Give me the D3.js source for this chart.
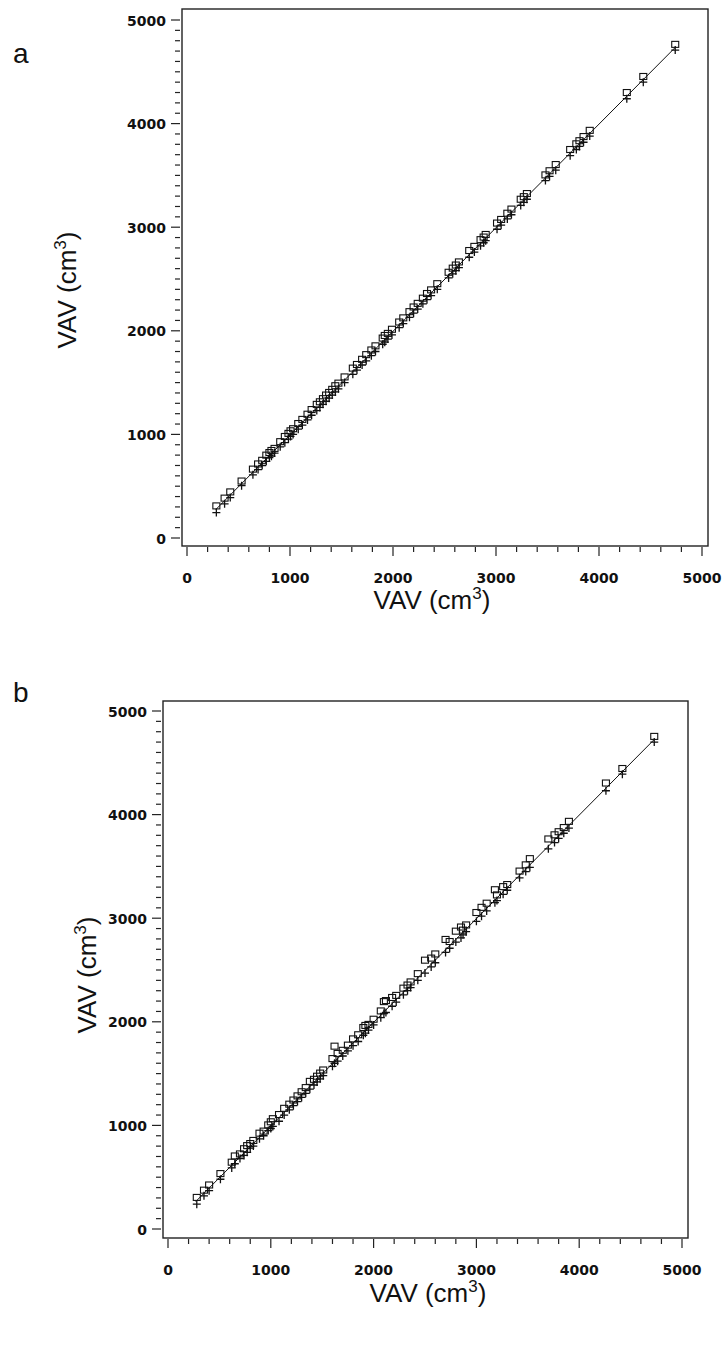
<!DOCTYPE html>
<html>
<head>
<meta charset="utf-8">
<script src="https://cdn.jsdelivr.net/npm/d3@7"></script>
<style>
  body { margin: 0; background: #fff; }
  svg { display: block; }
  .tick-label { font-family: "DejaVu Sans", sans-serif; font-weight: bold; font-size: 14px; fill: #111; }
  .axis-title { font-family: "Liberation Sans", Arial, sans-serif; font-size: 26px; fill: #111; }
  .panel-letter { font-family: "Liberation Sans", Arial, sans-serif; font-size: 28px; fill: #111; }
</style>
</head>
<body>
<div id="chart"></div>
<script>
// Tick values shared by both panels
const majorTicks = [0, 1000, 2000, 3000, 4000, 5000];
const xMinorStep = 200;
const yMinorStep = 100;

// Panel a: reference volume, square-marker measure, plus-marker measure
const volA = [285, 365, 420, 530, 640, 690, 730, 770, 800, 820, 850, 905, 950, 985, 1005, 1030, 1080, 1120, 1170, 1210,
  1260, 1290, 1320, 1350, 1380, 1410, 1440, 1470, 1530, 1610, 1650, 1700, 1740, 1790, 1830, 1900, 1920, 1950, 1990, 2060,
  2100, 2160, 2200, 2240, 2290, 2330, 2370, 2430, 2540, 2580, 2610, 2640, 2740, 2790, 2850, 2880, 2900, 3010, 3050, 3110,
  3150, 3240, 3270, 3300, 3480, 3520, 3580, 3720, 3780, 3810, 3850, 3910, 4270, 4430, 4740];
const sqA = [305, 380, 440, 545, 660, 710, 745, 795, 820, 840, 860, 925, 975, 1005, 1030, 1050, 1100, 1140, 1190, 1235,
  1285, 1310, 1340, 1375, 1400, 1430, 1465, 1490, 1550, 1635, 1670, 1720, 1765, 1810, 1850, 1925, 1950, 1970, 2010, 2080,
  2120, 2180, 2225, 2260, 2310, 2355, 2390, 2450, 2560, 2600, 2630, 2660, 2770, 2810, 2875, 2900, 2925, 3035, 3070, 3130,
  3170, 3265, 3290, 3320, 3500, 3540, 3600, 3745, 3800, 3830, 3870, 3930, 4295, 4450, 4760];
const plusA = [245, 330, 390, 505, 610, 660, 700, 740, 775, 790, 820, 880, 920, 955, 980, 1000, 1050, 1090, 1140, 1185,
  1230, 1260, 1290, 1320, 1350, 1380, 1410, 1440, 1500, 1580, 1620, 1670, 1710, 1760, 1800, 1870, 1890, 1920, 1960, 2030,
  2070, 2130, 2170, 2210, 2260, 2300, 2340, 2400, 2510, 2550, 2580, 2610, 2710, 2760, 2820, 2850, 2870, 2980, 3020, 3080,
  3120, 3210, 3240, 3270, 3450, 3490, 3550, 3690, 3750, 3780, 3820, 3880, 4240, 4400, 4710];
const fitA = [[280, 275], [4740, 4735]];

// Panel b
const volB = [280, 350, 400, 510, 620, 650, 700, 740, 770, 800, 830, 890, 930, 975, 1000, 1020, 1080, 1130, 1180, 1220,
  1260, 1300, 1340, 1380, 1420, 1450, 1480, 1510, 1600, 1620, 1650, 1700, 1750, 1800, 1850, 1900, 1920, 1950, 2000, 2070,
  2100, 2120, 2180, 2220, 2290, 2330, 2360, 2430, 2500, 2560, 2600, 2700, 2740, 2800, 2850, 2870, 2900, 3000, 3050, 3100,
  3180, 3200, 3260, 3300, 3420, 3480, 3520, 3700, 3760, 3800, 3850, 3900, 4260, 4420, 4730];
const sqB = [300, 370, 420, 530, 640, 700, 720, 770, 800, 820, 850, 920, 940, 1000, 1030, 1060, 1100, 1160, 1200, 1240,
  1280, 1320, 1360, 1420, 1440, 1470, 1500, 1530, 1640, 1760, 1690, 1720, 1770, 1830, 1870, 1940, 1960, 1970, 2020, 2100,
  2190, 2200, 2230, 2250, 2320, 2350, 2380, 2460, 2590, 2610, 2650, 2790, 2770, 2870, 2910, 2880, 2930, 3050, 3100, 3140,
  3270, 3220, 3300, 3320, 3450, 3510, 3570, 3760, 3800, 3830, 3870, 3930, 4300, 4440, 4750];
const plusB = [240, 320, 370, 480, 590, 630, 680, 710, 740, 780, 800, 870, 900, 950, 970, 990, 1040, 1100, 1150, 1190,
  1230, 1270, 1310, 1350, 1390, 1420, 1450, 1480, 1570, 1600, 1620, 1670, 1720, 1770, 1810, 1870, 1890, 1920, 1970, 2040,
  2080, 2090, 2150, 2190, 2260, 2300, 2330, 2400, 2470, 2530, 2570, 2670, 2710, 2770, 2810, 2840, 2870, 2970, 3020, 3070,
  3150, 3170, 3230, 3270, 3390, 3450, 3490, 3670, 3730, 3770, 3820, 3870, 4230, 4390, 4700];
const fitB = [[270, 265], [4730, 4725]];

const axisLabel = "VAV (cm";
const axisSup = "3";

const W = 726, H = 1345;
const svg = d3.select("#chart").append("svg")
    .attr("width", W)
    .attr("height", H);

function drawPanel(opt, vol, sq, plus, fit) {
    const x = d3.scaleLinear().domain([0, 5000]).range(opt.xr);
    const y = d3.scaleLinear().domain([0, 5000]).range(opt.yr);
    const g = svg.append("g");
    const f = opt.frame;

    // Frame
    g.append("rect")
        .attr("x", f.l).attr("y", f.t)
        .attr("width", f.r - f.l).attr("height", f.b - f.t)
        .attr("fill", "none").attr("stroke", "#222").attr("stroke-width", 1.4);

    // X ticks (below frame)
    const xTicks = d3.range(0, 5001, xMinorStep);
    g.selectAll(".xt").data(xTicks).join("line")
        .attr("x1", d => x(d)).attr("x2", d => x(d))
        .attr("y1", f.b + 1)
        .attr("y2", d => f.b + (d % 1000 === 0 ? 10 : 6))
        .attr("stroke", "#222").attr("stroke-width", 1.2);
    g.selectAll(".xl").data(majorTicks).join("text")
        .attr("class", "tick-label")
        .attr("x", d => x(d)).attr("y", f.b + 37)
        .attr("text-anchor", "middle")
        .text(d => d);

    // Y ticks (left of frame)
    const yTicks = d3.range(0, 5001, yMinorStep);
    g.selectAll(".yt").data(yTicks).join("line")
        .attr("x1", d => f.l - 2 - (d % 1000 === 0 ? 9 : 5)).attr("x2", f.l - 2)
        .attr("y1", d => y(d)).attr("y2", d => y(d))
        .attr("stroke", "#222").attr("stroke-width", 1.2);
    g.selectAll(".yl").data(majorTicks).join("text")
        .attr("class", "tick-label")
        .attr("x", f.l - 16).attr("y", d => y(d) + 5.5)
        .attr("text-anchor", "end")
        .text(d => d);

    // Fit line
    g.append("path")
        .attr("d", d3.line().x(d => x(d[0])).y(d => y(d[1]))(fit))
        .attr("fill", "none").attr("stroke", "#111").attr("stroke-width", 1);

    // Plus markers
    const pts = vol.map((v, i) => ({ v, s: sq[i], p: plus[i] }));
    g.selectAll(".pl").data(pts).join("path")
        .attr("d", d => {
            const cx = x(d.v), cy = y(d.p);
            return `M${cx - 4},${cy}H${cx + 4}M${cx},${cy - 4}V${cy + 4}`;
        })
        .attr("stroke", "#111").attr("stroke-width", 1.3).attr("fill", "none");

    // Square markers
    g.selectAll(".sq").data(pts).join("rect")
        .attr("x", d => x(d.v) - 3.5).attr("y", d => y(d.s) - 3.5)
        .attr("width", 7).attr("height", 6)
        .attr("fill", "none").attr("stroke", "#111").attr("stroke-width", 1.1);

    // Axis titles
    const xt = g.append("text").attr("class", "axis-title")
        .attr("x", opt.xTitle[0]).attr("y", opt.xTitle[1])
        .attr("text-anchor", "middle");
    xt.append("tspan").text(axisLabel);
    xt.append("tspan").attr("dy", -10).attr("font-size", 17).text(axisSup);
    xt.append("tspan").attr("dy", 10).text(")");

    const yt = g.append("text").attr("class", "axis-title")
        .attr("transform", `translate(${opt.yTitle[0]},${opt.yTitle[1]}) rotate(-90)`)
        .attr("text-anchor", "middle");
    yt.append("tspan").text(axisLabel);
    yt.append("tspan").attr("dy", -10).attr("font-size", 17).text(axisSup);
    yt.append("tspan").attr("dy", 10).text(")");

    svg.append("text").attr("class", "panel-letter")
        .attr("x", opt.letter[1]).attr("y", opt.letter[2])
        .text(opt.letter[0]);
}

drawPanel({
    xr: [187, 702], yr: [538, 20],
    frame: { l: 182, t: 9, r: 708, b: 546 },
    xTitle: [432, 609], yTitle: [76, 290],
    letter: ["a", 13, 63]
}, volA, sqA, plusA, fitA);

drawPanel({
    xr: [168, 682], yr: [1229, 711],
    frame: { l: 163, t: 701, r: 688, b: 1238 },
    xTitle: [428, 1302], yTitle: [96, 975],
    letter: ["b", 13, 702]
}, volB, sqB, plusB, fitB);
</script>
</body>
</html>
